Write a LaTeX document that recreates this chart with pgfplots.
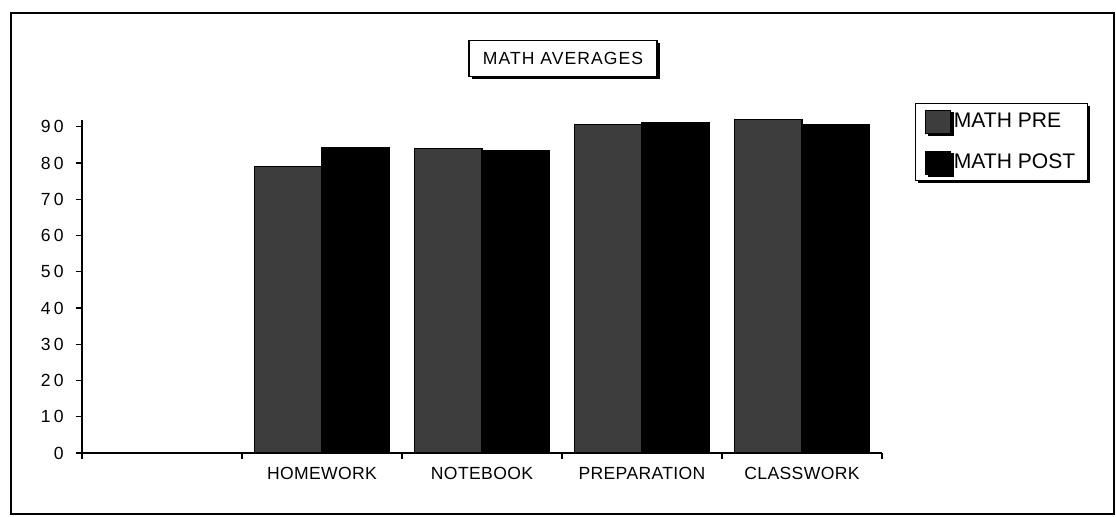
\documentclass[border=0pt]{standalone}
\usepackage{pgfplots}
\pgfplotsset{compat=1.18}
\usepackage{fontspec}
\setmainfont{Liberation Sans}
\usetikzlibrary{shadows}
\begin{document}
\begin{tikzpicture}
\path[use as bounding box] (0,0) rectangle (22.32,-10.32);
\draw[line width=0.6pt] (0.22,-0.26) rectangle (22.28,-10.28);
\node[draw, line width=0.6pt, fill=white, minimum width=3.76cm, minimum height=0.72cm,
      font=\fontsize{10}{12}\selectfont\addfontfeature{LetterSpace=6},
      drop shadow={shadow xshift=1.5pt, shadow yshift=-1.5pt, fill=black, opacity=1}]
      at (11.26,-1.17) {MATH AVERAGES};
\begin{axis}[
  at={(1.64cm,-9.06cm)}, anchor=south west,
  scale only axis, width=16cm, height=6.67cm,
  xmin=0, xmax=5, ymin=0, ymax=92,
  axis x line=bottom, axis y line=left,
  axis line style={-},
  x axis line style={line width=1.4pt},
  y axis line style={line width=0.9pt},
  xtick={0,...,5}, xticklabels={},
  extra x ticks={1.5,2.5,3.5,4.5},
  extra x tick labels={HOMEWORK,NOTEBOOK,PREPARATION,CLASSWORK},
  extra x tick style={major tick length=0pt},
  ytick={0,10,...,90},
  tick align=outside, major tick length=0.12cm,
  tick style={black, line width=0.8pt},
  /pgf/number format/assume math mode=true,
  xticklabel style={font=\fontsize{10}{11}\selectfont\addfontfeature{LetterSpace=2}, inner sep=0pt, anchor=north, yshift=-0.27cm},
  yticklabel style={font=\fontsize{10}{11}\selectfont\addfontfeature{LetterSpace=18}, inner sep=0pt, anchor=east, xshift=-0.24cm},
  legend style={at={(1.041,1.0495)}, anchor=north west, draw=black, line width=0.6pt, fill=white,
     font=\fontsize{12}{13}\selectfont, inner xsep=0.2cm, inner ysep=0.12cm, row sep=0.34cm,
     nodes={inner sep=0.05cm},
     drop shadow={shadow xshift=1.5pt, shadow yshift=-1.5pt, fill=black, opacity=1}},
  legend cell align=left,
  legend image code/.code={\fill[#1] (0cm,-0.23cm) rectangle (0.5cm,0.23cm);},
]
\addplot[ybar, bar width=0.42, bar shift=-0.21, fill=black!76, draw=black, line width=0.6pt]
  coordinates {(1.5,79.0) (2.5,84.0) (3.5,90.6) (4.5,91.9)};
\addlegendentry{MATH PRE}
\addplot[ybar, bar width=0.42, bar shift=0.21, fill=black, draw=black, line width=0.6pt]
  coordinates {(1.5,84.4) (2.5,83.4) (3.5,91.2) (4.5,90.5)};
\addlegendentry{MATH POST}
\end{axis}
\end{tikzpicture}
\end{document}
